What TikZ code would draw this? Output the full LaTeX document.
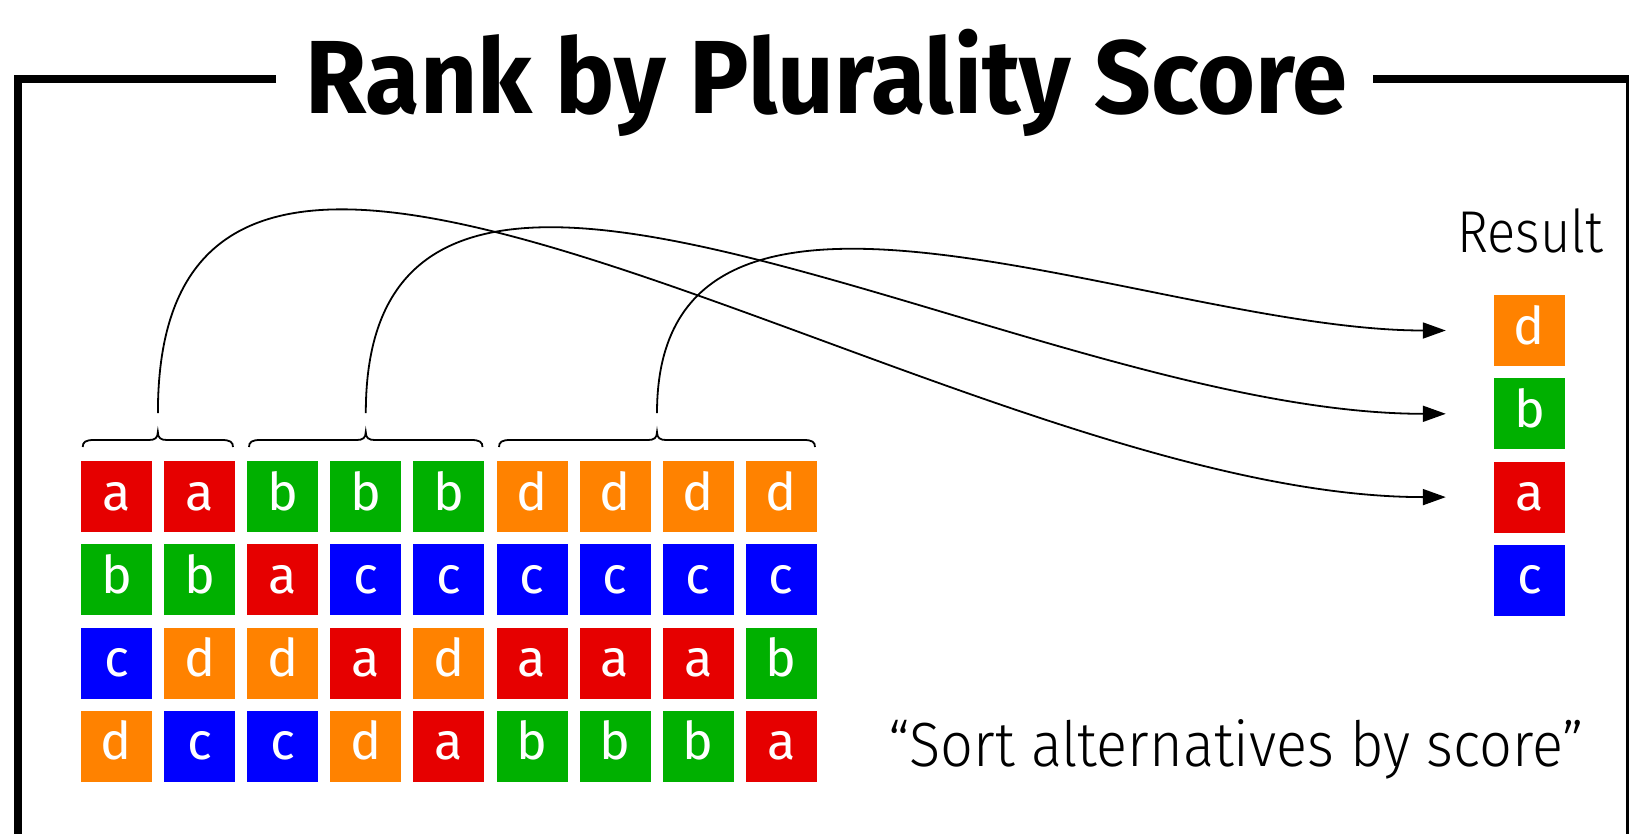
\documentclass[tikz,border=0pt]{standalone}
\usepackage{fontspec}
\usepackage{graphicx}
\setmainfont{Fira Sans}
\newfontfamily\lightfont{Fira Sans Light}
\usetikzlibrary{arrows.meta}
\definecolor{cola}{RGB}{230,0,0}
\definecolor{colb}{RGB}{0,176,0}
\definecolor{colc}{RGB}{0,0,255}
\definecolor{cold}{RGB}{255,130,0}
\newcommand\votebrace[2]{%
  \pgfmathsetmacro\bmid{(#1+#2)/2}%
  \draw[brc] (#1,447) .. controls (#1,442) and ({#1+3},440) .. ({#1+11},440)
    -- ({\bmid-9},440) .. controls ({\bmid-3},440) and (\bmid,438) .. (\bmid,432)
    .. controls (\bmid,438) and ({\bmid+3},440) .. ({\bmid+9},440)
    -- ({#2-11},440) .. controls ({#2-3},440) and (#2,442) .. (#2,447);%
}
\begin{document}
\begin{tikzpicture}[x=1pt,y={(0pt,-1pt)},
  cell/.style={minimum width=71pt,minimum height=71pt,inner sep=0pt,text=white,
    font=\fontsize{52}{52}\selectfont,text height=27pt,text depth=0pt},
  frm/.style={line width=8pt},
  brc/.style={line width=1.8pt},
  conn/.style={line width=1.8pt,-{Triangle[length=23pt,width=16pt]}},
  lbl/.style={anchor=base west,inner sep=0pt}]
\useasboundingbox (0,0) rectangle (1629,833);
\clip (0,0) rectangle (1629,833);
% frame
\draw[frm] (276,79) -- (17.5,79) -- (17.5,850);
\draw[frm] (1373,79) -- (1630,79) -- (1630,850);
% title
\node[lbl] (title) at (305,113.3) {\resizebox{1042pt}{\height}{\fontsize{104}{104}\selectfont\bfseries Rank by Plurality Score}};
% grid
\foreach \row [count=\j from 0] in {{a,a,b,b,b,d,d,d,d},{b,b,a,c,c,c,c,c,c},{c,d,d,a,d,a,a,a,b},{d,c,c,d,a,b,b,b,a}} {
  \foreach \v [count=\i from 0] in \row {
    \node[cell,fill=col\v] (g\i\j) at ({116.5+83.1*\i},{496.5+83.3*\j}) {\v};
  }
}
% result
\node[lbl] (result) at (1457,252.3) {\resizebox{146pt}{\height}{\lightfont\fontsize{59}{59}\selectfont Result}};
\node[cell,fill=cold] (rd) at (1529.5,330.5) {d};
\node[cell,fill=colb] (rb) at (1529.5,413.8) {b};
\node[cell,fill=cola] (ra) at (1529.5,497.1) {a};
\node[cell,fill=colc] (rc) at (1529.5,580.4) {c};
% braces
\votebrace{82.7}{233}
\votebrace{249}{482.5}
\votebrace{499}{815}
\coordinate (s1) at (157.9,413);
\coordinate (s2) at (365.8,413);
\coordinate (s3) at (657,413);
% connectors
\draw[conn] (s1) .. controls (157.9,-90) and (950,497.1) .. ([xshift=-48pt]ra.west);
\draw[conn] (s2) .. controls (365.8,-5.5) and (1023,413.8) .. ([xshift=-48pt]rb.west);
\draw[conn] (s3) .. controls (657,100) and (1152,330.5) .. ([xshift=-48pt]rd.west);
% caption
\node[lbl] (caption) at (888,766) {\resizebox{696pt}{\height}{\lightfont\fontsize{62.4}{62.4}\selectfont “Sort alternatives by score”}};
\end{tikzpicture}
\end{document}
